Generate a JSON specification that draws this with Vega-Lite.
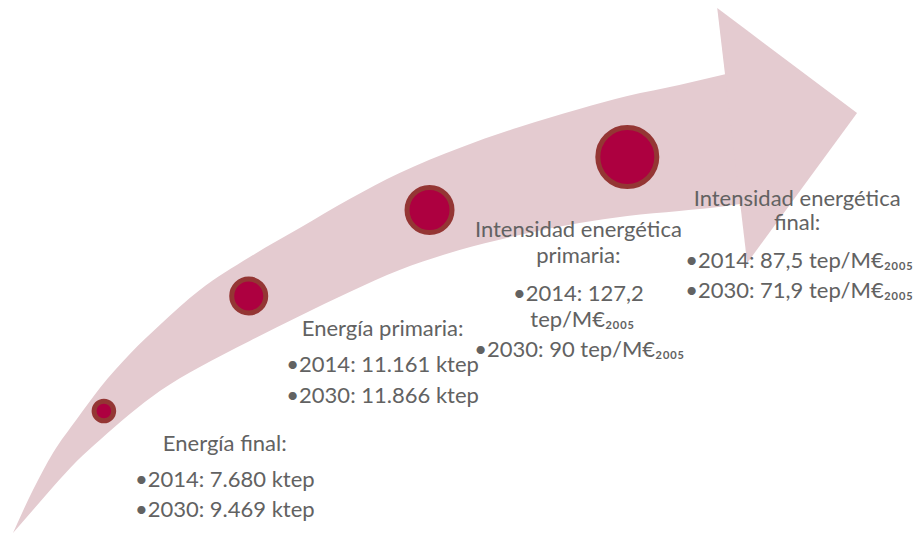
{
  "$schema": "https://vega.github.io/schema/vega-lite/v6.json",
  "width": 913,
  "height": 534,
  "autosize": {"type": "fit", "contains": "padding"},
  "padding": 0,
  "background": "white",
  "config": {"view": {"stroke": null}},
  "datasets": {
    "body": [
      {"x": 13, "top": 533, "bottom": 533},
      {"x": 33, "top": 490, "bottom": 510},
      {"x": 53, "top": 453, "bottom": 487},
      {"x": 77, "top": 419, "bottom": 461},
      {"x": 100, "top": 388, "bottom": 440},
      {"x": 130, "top": 354, "bottom": 414},
      {"x": 160, "top": 325, "bottom": 391},
      {"x": 200, "top": 290, "bottom": 367},
      {"x": 250, "top": 257, "bottom": 341},
      {"x": 300, "top": 228, "bottom": 316},
      {"x": 350, "top": 199, "bottom": 292},
      {"x": 400, "top": 173, "bottom": 270},
      {"x": 460, "top": 148, "bottom": 250},
      {"x": 520, "top": 127, "bottom": 235},
      {"x": 580, "top": 109, "bottom": 223},
      {"x": 628, "top": 96, "bottom": 216},
      {"x": 680, "top": 85, "bottom": 211},
      {"x": 727, "top": 74, "bottom": 206},
      {"x": 741, "top": 71, "bottom": 204}
    ],
    "head": [
      {"x": 718, "top": 8, "bottom": 8},
      {"x": 748, "top": 30.5, "bottom": 263},
      {"x": 858, "top": 113, "bottom": 113}
    ],
    "circles": [
      {"step": 1, "x": 104, "y": 411},
      {"step": 2, "x": 249, "y": 296},
      {"step": 3, "x": 430, "y": 210},
      {"step": 4, "x": 628, "y": 157}
    ],
    "labels": [
      {"x": 225, "y": 451, "text": "Energía final:"},
      {"x": 225, "y": 487, "text": "•2014: 7.680 ktep"},
      {"x": 225, "y": 517, "text": "•2030: 9.469 ktep"},
      {"x": 383, "y": 336, "text": "Energía primaria:"},
      {"x": 383, "y": 372, "text": "•2014: 11.161 ktep"},
      {"x": 383, "y": 403, "text": "•2030: 11.866 ktep"},
      {"x": 579, "y": 237, "text": "Intensidad energética"},
      {"x": 579, "y": 263, "text": "primaria:"},
      {"x": 579, "y": 301, "text": "•2014: 127,2"},
      {"x": 583, "y": 327, "text": "tep/M€₂₀₀₅"},
      {"x": 580, "y": 357, "text": "•2030: 90 tep/M€₂₀₀₅"},
      {"x": 798, "y": 206, "text": "Intensidad energética"},
      {"x": 798, "y": 230, "text": "final:"},
      {"x": 800, "y": 268, "text": "•2014: 87,5 tep/M€₂₀₀₅"},
      {"x": 800, "y": 298, "text": "•2030: 71,9 tep/M€₂₀₀₅"}
    ]
  },
  "layer": [
    {
      "data": {"name": "body"},
      "mark": {"type": "area", "color": "#e4cbd0", "interpolate": "monotone", "opacity": 1},
      "encoding": {
        "x": {"field": "x", "type": "quantitative", "scale": {"domain": [0, 913]}, "axis": null},
        "y": {"field": "top", "type": "quantitative", "scale": {"domain": [0, 534], "reverse": true}, "axis": null, "stack": null},
        "y2": {"field": "bottom"}
      }
    },
    {
      "data": {"name": "head"},
      "mark": {"type": "area", "color": "#e4cbd0", "interpolate": "linear", "opacity": 1},
      "encoding": {
        "x": {"field": "x", "type": "quantitative", "scale": {"domain": [0, 913]}, "axis": null},
        "y": {"field": "top", "type": "quantitative", "scale": {"domain": [0, 534], "reverse": true}, "axis": null, "stack": null},
        "y2": {"field": "bottom"}
      }
    },
    {
      "data": {"name": "circles"},
      "mark": {"type": "point", "shape": "circle", "filled": true, "fill": "#ad0040", "stroke": "#943634", "strokeWidth": 5, "opacity": 1, "fillOpacity": 1, "strokeOpacity": 1},
      "encoding": {
        "x": {"field": "x", "type": "quantitative", "scale": {"domain": [0, 913]}, "axis": null},
        "y": {"field": "y", "type": "quantitative", "scale": {"domain": [0, 534], "reverse": true}, "axis": null},
        "size": {"field": "step", "type": "quantitative", "scale": {"type": "linear", "domain": [1, 2, 3, 4], "range": [384, 1156, 2025, 3481], "zero": false}, "legend": null}
      }
    },
    {
      "data": {"name": "labels"},
      "mark": {"type": "text", "align": "center", "baseline": "alphabetic", "font": "Lato", "fontSize": 22, "color": "#626262"},
      "encoding": {
        "x": {"field": "x", "type": "quantitative", "scale": {"domain": [0, 913]}, "axis": null},
        "y": {"field": "y", "type": "quantitative", "scale": {"domain": [0, 534], "reverse": true}, "axis": null},
        "text": {"field": "text"}
      }
    }
  ]
}
